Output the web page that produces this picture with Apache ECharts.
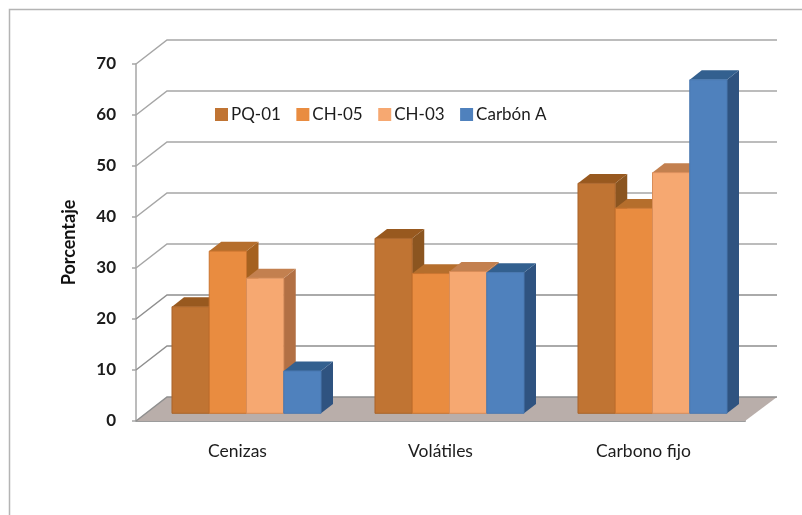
<!DOCTYPE html>
<html><head><meta charset="utf-8">
<style>html,body{margin:0;padding:0;background:#fff}#c{width:802px;height:515px}</style>
<script src="https://cdn.jsdelivr.net/npm/echarts@6/dist/echarts.min.js"></script>
</head><body><div id="c"></div>
<script>
const categories = ['Cenizas', 'Volátiles', 'Carbono fijo'];
const yTicks = [0, 10, 20, 30, 40, 50, 60, 70];
const seriesNames = ['PQ-01', 'CH-05', 'CH-03', 'Carbón A'];
const pq01 = [20.9, 34.3, 45.1];
const ch05 = [31.8, 27.4, 40.2];
const ch03 = [26.5, 27.8, 47.2];
const carbonA = [8.3, 27.6, 65.4];
const seriesValues = [pq01, ch05, ch03, carbonA];

const palettes = [
  {front:'#c07433', top:'#98591f', side:'#8b5520', edge:'#a9642a'},
  {front:'#e98c40', top:'#b56e2c', side:'#a5611f', edge:'#c9742f'},
  {front:'#f6a871', top:'#c3804f', side:'#b27044', edge:'#d98d58'},
  {front:'#4f81bd', top:'#33608f', side:'#2f5380', edge:'#4a78b0'}
];
// projection of the 3D box
const wallDx = 31, wallDy = -24, barShiftX = 9, barShiftY = -7.7, barDx = 12, barDy = -9.4, barFrac = 0.1835;

function renderBar(si) {
  return function (params, api) {
    const idx = api.value(0), val = api.value(1);
    const c = palettes[si];
    const w = api.size([1, 0])[0] * barFrac;
    const top = api.coord([idx, val]), base = api.coord([idx, 0]);
    const x0 = top[0] + barShiftX + (si - 2) * w, x1 = x0 + w;
    const yt = top[1] + barShiftY, yb = base[1] + barShiftY;
    const ln = {stroke: c.edge, lineWidth: 1};
    return {type: 'group', children: [
      {type: 'polygon', shape: {points: [[x1, yt], [x1 + barDx, yt + barDy], [x1 + barDx, yb + barDy], [x1, yb]]}, style: {fill: c.side}},
      {type: 'polygon', shape: {points: [[x0, yt], [x0 + barDx, yt + barDy], [x1 + barDx, yt + barDy], [x1, yt]]}, style: {fill: c.top}},
      {type: 'rect', shape: {x: x0, y: yt, width: w, height: yb - yt}, style: Object.assign({fill: c.front}, ln)}
    ]};
  };
}

const chart = echarts.init(document.getElementById('c'), null, {renderer: 'canvas'});
const gridColor = '#a6a6a6';
const lowGridColor = '#8f8f8f';
const textFont = 'Lato, "Open Sans", sans-serif';

chart.setOption({
  animation: false,
  backgroundColor: '#ffffff',
  graphic: [{type: 'polyline', silent: true, shape: {points: [[9.5, 515], [9.5, 9.5], [802, 9.5]]}, style: {stroke: '#b4b4b4', lineWidth: 1.5, fill: null}}],
  legend: {
    data: seriesNames, left: 210, top: 101, icon: 'rect', itemWidth: 13, itemHeight: 13, itemGap: 15.5,
    textStyle: {fontFamily: textFont, fontSize: 17, color: '#1c1c1c', padding: [0, 0, 0, -2]}
  },
  grid: {left: 136, top: 64, width: 609, height: 357},
  xAxis: {
    type: 'category', data: categories,
    axisLine: {show: true, lineStyle: {color: '#9c9c9c', width: 2}},
    axisTick: {show: false},
    axisLabel: {margin: 21, fontFamily: textFont, fontSize: 17.5, color: '#1c1c1c'}
  },
  yAxis: {
    type: 'value', min: 0, max: 70, interval: 10,
    name: 'Porcentaje', nameLocation: 'middle', nameGap: 58, nameRotate: 90,
    nameTextStyle: {fontFamily: textFont, fontSize: 18, fontWeight: 'bold', color: '#111'},
    axisLine: {show: true, lineStyle: {color: gridColor, width: 1.5}},
    axisTick: {show: true, length: 4, lineStyle: {color: gridColor, width: 1.5}},
    axisLabel: {margin: 20, fontFamily: textFont, fontSize: 17, fontWeight: 'bold', color: '#1c1c1c', padding: [7, 0, 0, 0]},
    splitLine: {show: false}
  },
  series: [
    {
      type: 'custom', name: 'floor', coordinateSystem: 'cartesian2d', silent: true, z: 1,
      data: [[0, 0]], encode: {x: 0, y: 1},
      renderItem: function (params, api) {
        const g = params.coordSys, yb = g.y + g.height, xl = g.x, xr = g.x + g.width;
        return {type: 'polygon', shape: {points: [[xl, yb], [xl + wallDx, yb + wallDy], [xr + wallDx + 1, yb + wallDy], [xr, yb]]}, style: {fill: '#b9aeaa'}};
      }
    },
    {
      type: 'custom', name: 'wall', coordinateSystem: 'cartesian2d', silent: true, z: 1,
      data: yTicks.map(t => [0, t]), encode: {x: 0, y: 1},
      renderItem: function (params, api) {
        const g = params.coordSys, v = api.value(1), y = api.coord([0, v])[1];
        return {type: 'polyline', shape: {points: [[g.x, y], [g.x + wallDx, y + wallDy], [g.x + g.width + wallDx + 1, y + wallDy]]},
          style: {stroke: v <= 20 ? lowGridColor : gridColor, lineWidth: 1.5, fill: null}};
      }
    }
  ].concat(seriesNames.map((name, si) => ({
    type: 'custom', name: name, coordinateSystem: 'cartesian2d', z: 3 + si,
    itemStyle: {color: palettes[si].front},
    data: seriesValues[si].map((v, i) => [i, v]), encode: {x: 0, y: 1},
    renderItem: renderBar(si)
  })))
});
</script></body></html>
